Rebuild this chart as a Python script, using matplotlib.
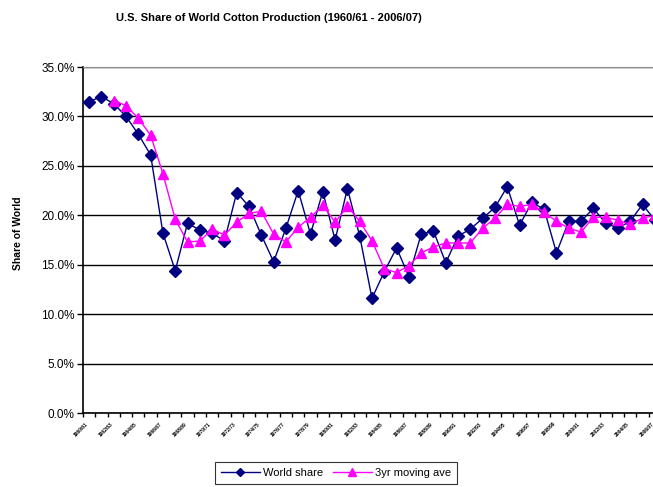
import numpy as np
import matplotlib
matplotlib.use("Agg")
import matplotlib.pyplot as plt
from matplotlib.ticker import PercentFormatter

plt.rcParams['font.family'] = ['Liberation Sans', 'DejaVu Sans']

# crop years 1960/61 .. 2006/07
seasons = ["1960/61", "1961/62", "1962/63", "1963/64", "1964/65", "1965/66", "1966/67", "1967/68",
           "1968/69", "1969/70", "1970/71", "1971/72", "1972/73", "1973/74", "1974/75", "1975/76",
           "1976/77", "1977/78", "1978/79", "1979/80", "1980/81", "1981/82", "1982/83", "1983/84",
           "1984/85", "1985/86", "1986/87", "1987/88", "1988/89", "1989/90", "1990/91", "1991/92",
           "1992/93", "1993/94", "1994/95", "1995/96", "1996/97", "1997/98", "1998/99", "1999/00",
           "2000/01", "2001/02", "2002/03", "2003/04", "2004/05", "2005/06", "2006/07"]

# US share of world production, %
world_share = [31.5, 32.0, 31.3, 30.0, 28.2, 26.1, 18.2, 14.4, 19.2, 18.5,
               18.2, 17.4, 22.3, 20.9, 18.0, 15.3, 18.7, 22.5, 18.1, 22.4,
               17.5, 22.7, 17.9, 11.6, 14.3, 16.7, 13.8, 18.1, 18.4, 15.2,
               17.9, 18.6, 19.7, 20.8, 22.9, 19.0, 21.3, 20.6, 16.2, 19.4,
               19.4, 20.7, 19.2, 18.7, 19.4, 21.1, 19.5]

# 3 yr moving average, % (first two seasons empty)
moving_ave = [np.nan, np.nan, 31.6, 31.1, 29.8, 28.1, 24.2, 19.6, 17.3, 17.4,
              18.6, 18.0, 19.3, 20.2, 20.4, 18.1, 17.3, 18.8, 19.8, 21.0,
              19.3, 20.9, 19.4, 17.4, 14.6, 14.2, 14.9, 16.2, 16.8, 17.2,
              17.2, 17.2, 18.7, 19.7, 21.1, 20.9, 21.1, 20.3, 19.4, 18.7,
              18.3, 19.8, 19.8, 19.5, 19.1, 19.7, 20.0]

x = np.arange(len(seasons))

fig = plt.figure(figsize=(6.53, 4.87), dpi=100)
fig.set_facecolor('white')
ax = fig.add_axes([83/653, 74/487, 578/653, 346/487])

ax.plot(x, world_share, color='#000080', lw=1.0, marker='D', markersize=6,
        markerfacecolor='#000080', markeredgecolor='#000080', label='World share', zorder=3)
ax.plot(x, moving_ave, color='#FF00FF', lw=1.0, marker='^', markersize=7.5,
        markerfacecolor='#FF00FF', markeredgecolor='#FF00FF', label='3yr moving ave', zorder=4)

ax.set_ylim(0, 35)
ax.set_yticks(np.arange(0, 35.1, 5))
ax.yaxis.set_major_formatter(PercentFormatter(xmax=100, decimals=1))
ax.grid(axis='y', color='black', lw=1.0)
ax.set_axisbelow(True)

ax.set_xlim(-0.5, len(seasons) - 0.5)
ax.set_xticks(x[::2])
ax.set_xticklabels(seasons[::2], rotation=45, ha='right', fontsize=3.5, fontweight='bold')
ax.set_xticks(np.arange(-0.5, len(seasons), 1), minor=True)
ax.tick_params(axis='x', which='major', length=0, pad=6)
ax.tick_params(axis='x', which='minor', length=3, width=1, direction='out', color='black')
ax.tick_params(axis='y', length=4, width=1, direction='out', labelsize=8.5, pad=2)

for s in ['left', 'bottom']:
    ax.spines[s].set_color('black')
    ax.spines[s].set_linewidth(1.2)
ax.spines['top'].set_color('#909090')
ax.spines['right'].set_color('#909090')

ax.set_ylabel('Share of World', fontsize=7.5, fontweight='bold')
ax.yaxis.set_label_coords(-0.104, 0.52)

fig.text(269/653, 1 - 18/487, 'U.S. Share of World Cotton Production (1960/61 - 2006/07)',
         ha='center', va='center', fontsize=8, fontweight='bold')

leg = fig.legend(loc='center', bbox_to_anchor=(336/653, 1 - 473/487), ncol=2,
                 fontsize=8, frameon=True, fancybox=False, edgecolor='black',
                 handlelength=3.5, columnspacing=0.9, handletextpad=0.3,
                 borderpad=0.55, markerscale=0.7)
leg.get_frame().set_linewidth(0.8)

fig.savefig('out.png', dpi=100, facecolor='white')
